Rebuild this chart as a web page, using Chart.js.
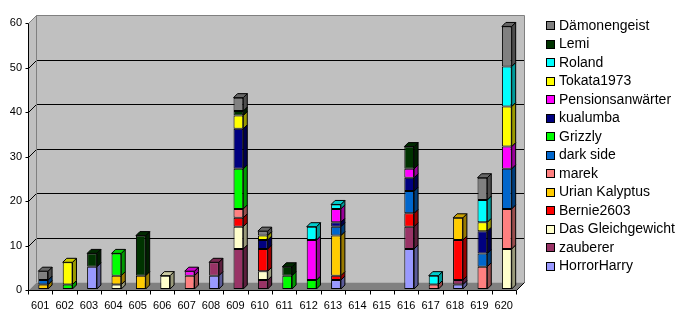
<!DOCTYPE html>
<html>
<head>
<meta charset="utf-8">
<script src="https://cdn.jsdelivr.net/npm/chart.js@4.4.1/dist/chart.umd.min.js"></script>
<style>
  body { margin: 0; background: #fff; }
</style>
</head>
<body>
<canvas id="chart" width="690" height="320"></canvas>
<script>
// categories and tick labels
const categories = ["601","602","603","604","605","606","607","608","609","610",
                    "611","612","613","614","615","616","617","618","619","620"];
const yTicks = [0, 10, 20, 30, 40, 50, 60];

// series, bottom of the stack first
const horrorHarry   = [0,0,5,0,0,0,0,3,0,0,0,0,2,0,0,9,0,1,0,0];
const zauberer      = [0,0,0,0,0,0,0,3,9,2,0,0,0,0,0,5,0,1,0,0];
const gleichgewicht = [0,0,0,1,0,3,0,0,5,2,0,0,0,0,0,0,0,0,0,9];
const bernie        = [0,0,0,0,0,0,0,0,2,5,0,0,1,0,0,3,0,9,0,0];
const urian         = [1,0,0,2,3,0,0,0,0,0,0,0,9,0,0,0,0,5,0,0];
const marek         = [0,0,0,0,0,0,3,0,2,0,0,0,0,0,0,0,1,0,5,9];
const darkSide      = [1,0,0,0,0,0,0,0,0,0,0,0,2,0,0,5,0,0,3,9];
const grizzly       = [0,1,0,5,0,0,0,0,9,0,3,2,0,0,0,0,0,0,0,0];
const kualumba      = [0,0,0,0,0,0,0,0,9,2,0,0,1,0,0,3,0,0,5,0];
const pensions      = [0,0,0,0,0,0,1,0,0,0,0,9,3,0,0,2,0,0,0,5];
const tokata        = [0,5,0,0,0,0,0,0,3,1,0,0,0,0,0,0,0,0,2,9];
const roland        = [0,0,0,0,0,0,0,0,0,0,0,3,1,0,0,0,2,0,5,9];
const lemi          = [0,0,3,0,9,0,0,0,1,0,2,0,0,0,0,5,0,0,0,0];
const daemon        = [2,0,0,0,0,0,0,0,3,1,0,0,0,0,0,0,0,0,5,9];

const seriesNames = ["HorrorHarry","zauberer","Das Gleichgewicht","Bernie2603","Urian Kalyptus",
  "marek","dark side","Grizzly","kualumba","Pensionsanwärter","Tokata1973","Roland","Lemi","Dämonengeist"];
const seriesData = [horrorHarry, zauberer, gleichgewicht, bernie, urian, marek, darkSide,
  grizzly, kualumba, pensions, tokata, roland, lemi, daemon];
const seriesColors = ["#9999FF","#993366","#FFFFCC","#FF0000","#FFCC00","#FF8080","#0066CC",
  "#00FF00","#000080","#FF00FF","#FFFF00","#00FFFF","#003300","#808080"];

const FONT = '"Liberation Sans", Arial, sans-serif';
const DEPTH = 8;       // depth of the walls
const BAR_DEPTH = 4;   // depth of the bars
const SHIFT_X = 3, SHIFT_Y = -1;

function shade(hex, f) {
  const n = parseInt(hex.slice(1), 16);
  const r = Math.round(((n >> 16) & 255) * f);
  const g = Math.round(((n >> 8) & 255) * f);
  const b = Math.round((n & 255) * f);
  return `rgb(${r},${g},${b})`;
}

function poly(ctx, pts, fill, stroke) {
  ctx.beginPath();
  ctx.moveTo(pts[0][0], pts[0][1]);
  for (let i = 1; i < pts.length; i++) ctx.lineTo(pts[i][0], pts[i][1]);
  ctx.closePath();
  if (fill) { ctx.fillStyle = fill; ctx.fill(); }
  if (stroke) { ctx.strokeStyle = stroke; ctx.lineWidth = 1; ctx.stroke(); }
}

function line(ctx, x0, y0, x1, y1, color) {
  ctx.beginPath();
  ctx.moveTo(x0, y0);
  ctx.lineTo(x1, y1);
  ctx.strokeStyle = color;
  ctx.lineWidth = 1;
  ctx.stroke();
}

// 3d walls, floor and bar faces
const box3d = {
  id: 'box3d',
  beforeDatasetsDraw(chart) {
    const { ctx, chartArea: a, scales: { y } } = chart;
    const L = Math.round(a.left) + 0.5, R = Math.round(a.right) + 0.5;
    const T = Math.round(a.top) + 0.5, B = Math.round(a.bottom) + 0.5;
    ctx.save();
    // back wall + left wall
    poly(ctx, [[L + DEPTH, T - DEPTH], [R + DEPTH, T - DEPTH], [R + DEPTH, B - DEPTH], [L + DEPTH, B - DEPTH]], '#C0C0C0');
    poly(ctx, [[L, T], [L + DEPTH, T - DEPTH], [L + DEPTH, B - DEPTH], [L, B]], '#C0C0C0');
    // floor
    poly(ctx, [[L, B], [R, B], [R + DEPTH, B - DEPTH], [L + DEPTH, B - DEPTH]], '#808080');
    // gridlines
    yTicks.forEach((v, i) => {
      const py = Math.round(y.getPixelForValue(v)) + 0.5;
      const c = i === yTicks.length - 1 ? '#808080' : '#000';
      if (i > 0) {
        line(ctx, L, py, L + DEPTH, py - DEPTH, c);
        line(ctx, L + DEPTH, py - DEPTH, R + DEPTH, py - DEPTH, c);
      }
      line(ctx, L - 3, py, L, py, '#000');
    });
    line(ctx, L + DEPTH, T - DEPTH, L + DEPTH, B - DEPTH, '#808080');
    line(ctx, R + DEPTH, T - DEPTH, R + DEPTH, B - DEPTH, '#808080');
    ctx.restore();
    ctx.save();
    ctx.translate(SHIFT_X, SHIFT_Y);
  },
  afterDatasetsDraw(chart) {
    const { ctx, chartArea: a, scales: { x } } = chart;
    const tops = {};
    chart.data.datasets.forEach((ds, i) => {
      const meta = chart.getDatasetMeta(i);
      meta.data.forEach((bar, j) => {
        if (!ds.data[j]) return;
        const p = bar.getProps(['x', 'y', 'base', 'width'], true);
        const x0 = p.x - p.width / 2, x1 = p.x + p.width / 2;
        poly(ctx, [[x1, p.base], [x1, p.y], [x1 + BAR_DEPTH, p.y - BAR_DEPTH], [x1 + BAR_DEPTH, p.base - BAR_DEPTH]],
          shade(seriesColors[i], 0.6), '#000');
        tops[j] = { x0, x1, y: p.y, color: seriesColors[i] };
      });
    });
    Object.values(tops).forEach(t => {
      poly(ctx, [[t.x0, t.y], [t.x1, t.y], [t.x1 + BAR_DEPTH, t.y - BAR_DEPTH], [t.x0 + BAR_DEPTH, t.y - BAR_DEPTH]],
        shade(t.color, 0.8), '#000');
    });
    ctx.restore();

    // front edges
    const L = Math.round(a.left) + 0.5, R = Math.round(a.right) + 0.5;
    const T = Math.round(a.top) + 0.5, B = Math.round(a.bottom) + 0.5;
    ctx.save();
    line(ctx, L, T, L + DEPTH, T - DEPTH, '#808080');
    line(ctx, L, T, L, B, '#000');
    line(ctx, L, B, R, B, '#000');
    line(ctx, R, B, R + DEPTH, B - DEPTH, '#000');
    for (let k = 0; k <= categories.length; k++) {
      const px = Math.round(a.left + k * (a.right - a.left) / categories.length) + 0.5;
      line(ctx, px, B, px, B + 4, '#000');
    }
    ctx.restore();
  }
};

// legend on the right, top series first
const sideLegend = {
  id: 'sideLegend',
  afterDraw(chart) {
    const { ctx } = chart;
    ctx.save();
    ctx.font = `14px ${FONT}`;
    ctx.textBaseline = 'middle';
    ctx.textAlign = 'left';
    for (let k = 0; k < seriesNames.length; k++) {
      const i = seriesNames.length - 1 - k;
      const cy = 25 + k * 18.5;
      const sy = Math.round(cy - 4) + 0.5;
      ctx.fillStyle = seriesColors[i];
      ctx.fillRect(546.5, sy, 8, 8);
      ctx.strokeStyle = '#000';
      ctx.lineWidth = 1;
      ctx.strokeRect(546.5, sy, 8, 8);
      ctx.fillStyle = '#000';
      ctx.fillText(seriesNames[i], 559, cy + 1);
    }
    ctx.restore();
  }
};

new Chart(document.getElementById('chart'), {
  type: 'bar',
  data: {
    labels: categories,
    datasets: seriesNames.map((name, i) => ({
      label: name,
      data: seriesData[i].map(v => v || null),
      backgroundColor: seriesColors[i],
      borderColor: '#000',
      borderWidth: 1,
      borderSkipped: false,
      barPercentage: 0.4,
      categoryPercentage: 1.0
    }))
  },
  options: {
    responsive: false,
    animation: false,
    layout: { padding: { top: 23, right: 174, left: 0, bottom: 0 } },
    plugins: { legend: { display: false }, tooltip: { enabled: false } },
    scales: {
      x: {
        stacked: true,
        grid: { display: false, drawTicks: false },
        border: { display: false },
        ticks: { color: '#000', font: { family: FONT, size: 11 }, padding: 9, maxRotation: 0, autoSkip: false },
        afterFit(s) { s.height = 30; }
      },
      y: {
        stacked: true,
        min: yTicks[0],
        max: yTicks[yTicks.length - 1],
        grid: { display: false, drawTicks: false },
        border: { display: false },
        ticks: { stepSize: yTicks[1] - yTicks[0], color: '#000', font: { family: FONT, size: 11 }, padding: 6 },
        afterFit(s) { s.width = 28; }
      }
    }
  },
  plugins: [box3d, sideLegend]
});
</script>
</body>
</html>
